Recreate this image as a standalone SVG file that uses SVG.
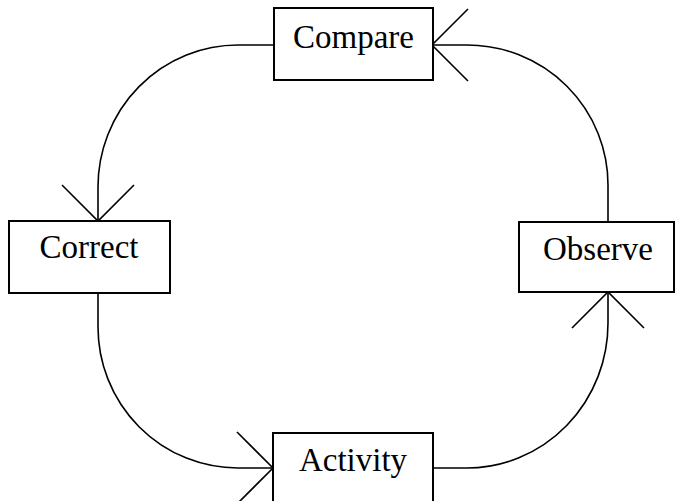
<svg xmlns="http://www.w3.org/2000/svg" width="675" height="501" viewBox="0 0 675 501">
<style>
.box{fill:#fff;stroke:#000;stroke-width:2}
.lbl{font-family:"Liberation Serif","Times New Roman",serif;font-size:33px;fill:#000;text-anchor:middle}
.conn{fill:none;stroke:#000;stroke-width:1.6}
</style>
<defs>
<marker id="ah" markerUnits="userSpaceOnUse" markerWidth="80" markerHeight="80" viewBox="-40 -40 80 80" refX="0" refY="0" orient="auto">
<path d="M-36,-36 L0,0 L-36,36" fill="none" stroke="#000" stroke-width="1.6"/>
</marker>
</defs>
<rect width="675" height="501" fill="#fff"/>
<g id="connectors">
<path class="conn" d="M274,45 H238 A140 142 0 0 0 98,187 V221" marker-end="url(#ah)"/>
<path class="conn" d="M98,293 V327 A140 141 0 0 0 238,468 H273" marker-end="url(#ah)"/>
<path class="conn" d="M433,468 H467 A141 145 0 0 0 608,323 V292" marker-end="url(#ah)"/>
<path class="conn" d="M608,222 V185 A141 140 0 0 0 467,45 H432" marker-end="url(#ah)"/>
</g>
<g id="compare">
<rect class="box" x="274" y="8" width="159" height="72"/>
<text class="lbl" x="353.5" y="48">Compare</text>
</g>
<g id="correct">
<rect class="box" x="9" y="221" width="161" height="72"/>
<text class="lbl" x="89" y="258">Correct</text>
</g>
<g id="observe">
<rect class="box" x="519" y="222" width="155" height="70"/>
<text class="lbl" x="598" y="260">Observe</text>
</g>
<g id="activity">
<rect class="box" x="273" y="433" width="160" height="75"/>
<text class="lbl" x="353" y="471">Activity</text>
</g>
</svg>
